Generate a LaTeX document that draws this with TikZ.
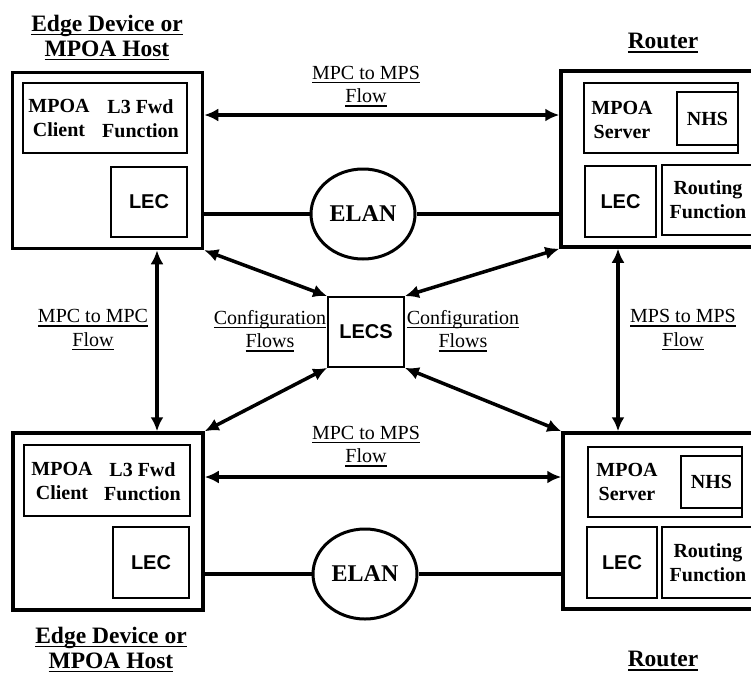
\documentclass[tikz,border=0pt]{standalone}
\usepackage{fontspec}
\setmainfont{Liberation Serif}
\setsansfont{Liberation Sans}
\usetikzlibrary{positioning,arrows.meta,shapes.geometric}

% underline with a fixed distance below the baseline
\newcommand{\ulbl}[1]{\leavevmode\vtop{\hbox{\raisebox{0pt}[\height][0pt]{#1}}\kern2.5pt\hrule height 1.5pt}}

\tikzset{
  device/.style={draw,line width=3.5pt,inner sep=0pt,minimum width=190pt,minimum height=176pt},
  part/.style={draw,line width=1.3pt,inner sep=0pt,align=center,font=\bfseries\fontsize{20}{24}\selectfont},
  partlbl/.style={part,draw=none},
  lec/.style={part,font=\sffamily\bfseries\fontsize{20}{24}\selectfont},
  fwd/.style={part,double,double distance=1.2pt,line width=0.7pt},
  elan/.style={ellipse,draw,line width=3pt,inner sep=0pt,minimum width=104pt,minimum height=90pt,font=\bfseries\fontsize{24}{25}\selectfont},
  title/.style={align=center,font=\bfseries\fontsize{23.5}{25}\selectfont},
  flowlbl/.style={align=center,font=\fontsize{20}{23.5}\selectfont},
  flow/.style={line width=3.5pt,{Latex[length=14pt,width=13pt]}-{Latex[length=14pt,width=13pt]}},
  lan/.style={line width=3.5pt},
}

\begin{document}
\begin{tikzpicture}[x=1pt,y=1pt]
\useasboundingbox (0,0) rectangle (751,-675);
\clip (0,0) rectangle (751,-675);

% edge device, top left
\node[device] (tl) at (107.5,-160.5) {};
\node[part,minimum width=164pt,minimum height=70pt] (tlmpc) at (105,-118) {};
\node[fwd,minimum width=87pt,minimum height=57pt] (tlfwd) at (140.5,-118.5) {L3 Fwd\\Function};
\node[partlbl] (tlmpctxt) at (59,-118) {MPOA\\Client};
\node[lec,minimum width=76pt,minimum height=70pt] (tllec) at (149,-202) {LEC};
\node[title] (tlname) at (107,-37.5) {\ulbl{Edge Device or}\\\ulbl{MPOA Host}};

% edge device, bottom left
\node[device,minimum height=177pt] (bl) at (108,-521.5) {};
\node[part,minimum width=166pt,minimum height=71pt] (blmpc) at (107,-480.5) {};
\node[fwd,minimum width=89pt,minimum height=59pt] (blfwd) at (142.5,-481.5) {L3 Fwd\\Function};
\node[partlbl] (blmpctxt) at (62,-481) {MPOA\\Client};
\node[lec,minimum width=76pt,minimum height=71pt] (bllec) at (151,-562.5) {LEC};
\node[title] (blname) at (111,-649.5) {\ulbl{Edge Device or}\\\ulbl{MPOA Host}};

% router, top right
\node[device,minimum width=200pt] (tr) at (661,-159) {};
\node[part,minimum width=154pt,minimum height=70pt] (trmps) at (661,-118) {};
\node[part,minimum width=61pt,minimum height=53pt] (trnhs) at (707.5,-118.5) {NHS};
\node[partlbl] (trmpstxt) at (622,-120) {MPOA\\Server};
\node[lec,minimum width=71pt,minimum height=71pt] (trlec) at (620.5,-201.5) {LEC};
\node[part,minimum width=92pt,minimum height=70pt] (trrf) at (708,-200) {Routing\\Function};
\node[title] (trname) at (663,-43) {\ulbl{Router}};

% router, bottom right
\node[device,minimum width=200pt] (br) at (663,-521) {};
\node[part,minimum width=154pt,minimum height=70pt] (brmps) at (665,-482) {};
\node[part,minimum width=61pt,minimum height=52pt] (brnhs) at (711.5,-482) {NHS};
\node[partlbl] (brmpstxt) at (627,-482) {MPOA\\Server};
\node[lec,minimum width=70pt,minimum height=71pt] (brlec) at (622,-562.5) {LEC};
\node[part,minimum width=92pt,minimum height=71pt] (brrf) at (708,-562.5) {Routing\\Function};
\node[title] (brname) at (663,-661) {\ulbl{Router}};

% emulated LANs
\node[elan] (elan1) at (363,-214) {ELAN};
\node[elan] (elan2) at (365,-574) {ELAN};
\draw[lan] (tl.east |- elan1.west) -- (elan1.west);
\draw[lan] (elan1.east) -- (tr.west |- elan1.east);
\draw[lan] (bl.east |- elan2.west) -- (elan2.west);
\draw[lan] (elan2.east) -- (br.west |- elan2.east);

% configuration server
\node[lec,minimum width=76pt,minimum height=70pt,line width=1.8pt] (lecs) at (366,-332) {LECS};
\node[flowlbl] (cfgl) at (270,-331) {\ulbl{Configuration}\\\ulbl{Flows}};
\node[flowlbl] (cfgr) at (463,-331) {\ulbl{Configuration}\\\ulbl{Flows}};
\draw[flow] (tl.south east) -- (lecs.north west);
\draw[flow] (tr.south west) -- (lecs.north east);
\draw[flow] (bl.north east) -- (lecs.south west);
\draw[flow] (br.north west) -- (lecs.south east);

% MPOA flows
\node[flowlbl] (topflow) at (366,-86.5) {\ulbl{MPC to MPS}\\\ulbl{Flow}};
\node[flowlbl] (botflow) at (366,-446.5) {\ulbl{MPC to MPS}\\\ulbl{Flow}};
\node[flowlbl] (mpcflow) at (93,-330) {\ulbl{MPC to MPC}\\\ulbl{Flow}};
\node[flowlbl] (mpsflow) at (683,-330) {\ulbl{MPS to MPS}\\\ulbl{Flow}};
\draw[flow] (tl.east |- 0,-115) -- (tr.west |- 0,-115);
\draw[flow] (bl.east |- 0,-477) -- (br.west |- 0,-477);
\draw[flow] (tl.south -| 157,0) -- (bl.north -| 157,0);
\draw[flow] (tr.south -| 618,0) -- (br.north -| 618,0);
\end{tikzpicture}
\end{document}
